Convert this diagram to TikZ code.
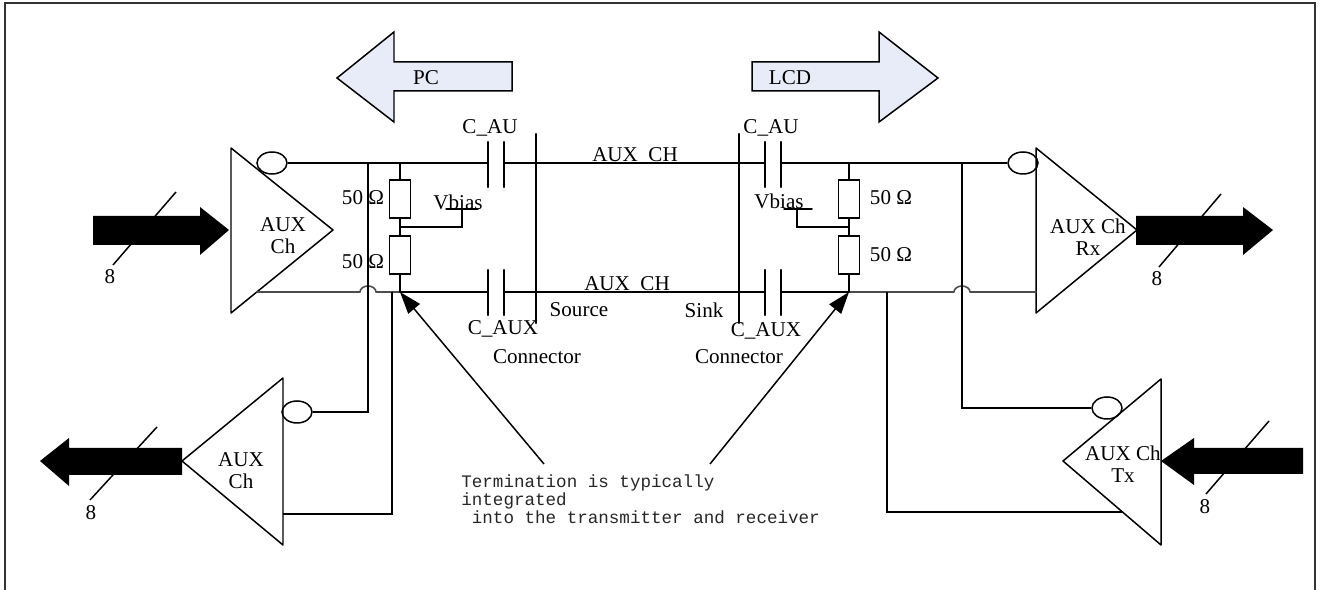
\documentclass[tikz,border=0pt]{standalone}
\usepackage{fontspec}
\setmainfont{Liberation Serif}
\setmonofont{Liberation Mono}
\usepackage{tkz-euclide}
\usepackage{xcolor}
\usetikzlibrary{arrows.meta, calc, shapes.geometric}

\definecolor{arrowblue}{RGB}{231,236,248}
\tikzset{
  wire/.style={line width=1.4pt},
  thinwire/.style={line width=0.85pt},
  faintwire/.style={line width=0.9pt, black!70},
  bubble/.style={ellipse, draw, line width=0.85pt, minimum width=6mm, minimum height=4.4mm, inner sep=0pt},
  resbox/.style={draw, line width=0.85pt, minimum width=4.2mm, minimum height=7.6mm, inner sep=0pt},
  termarrow/.style={line width=0.85pt, -{Triangle[length=4.4mm,width=3mm]}},
  lbl/.style={font=\fontsize{12}{12.5}\selectfont, inner sep=0pt, align=center},
  note/.style={font=\ttfamily\fontsize{10}{10.5}\selectfont, inner sep=0pt, align=left, text=black!85},
}

\begin{document}
\begin{tikzpicture}[x=0.02cm, y=-0.02cm]
    \useasboundingbox (0,0) rectangle (1323,590);
    \draw[line width=0.8pt, black!80] (5,590) -- (5,3) -- (1315,3) -- (1315,590);

    % direction arrows
    \filldraw[fill=arrowblue, thinwire] (337,78) -- (394,32) -- (394,62) -- (512,62)
        -- (512,91) -- (394,91) -- (394,122) -- cycle;
    \filldraw[fill=arrowblue, thinwire] (752,62) -- (879,62) -- (879,32) -- (938,78)
        -- (879,122) -- (879,91) -- (752,91) -- cycle;
    \node[lbl] (pc) at (426,78) {PC};
    \node[lbl] (lcd) at (790,78) {LCD};

    % drivers
    \tkzDefPoint(231,148){RxLt} \tkzDefPoint(333,230){RxLa} \tkzDefPoint(231,313){RxLb}
    \tkzDefPoint(283,378){TxLt} \tkzDefPoint(182,461){TxLa} \tkzDefPoint(283,545){TxLb}
    \tkzDefPoint(1036,148){RxRt} \tkzDefPoint(1137,230){RxRa} \tkzDefPoint(1036,313){RxRb}
    \tkzDefPoint(1161,379){TxRt} \tkzDefPoint(1063,461){TxRa} \tkzDefPoint(1161,545){TxRb}
    \tkzDrawPolygon[thinwire](RxLt,RxLa,RxLb)
    \tkzDrawPolygon[thinwire](TxLt,TxLa,TxLb)
    \tkzDrawPolygon[thinwire](RxRt,RxRa,RxRb)
    \tkzDrawPolygon[thinwire](TxRt,TxRa,TxRb)
    \node[bubble] (BRxL) at (272,163) {};
    \node[bubble] (BTxL) at (297,412) {};
    \node[bubble] (BRxR) at (1023,163) {};
    \node[bubble] (BTxR) at (1107,408) {};
    \node[lbl] (auxRxL) at (283,236) {AUX\\Ch};
    \node[lbl] (auxTxL) at (241,471) {AUX\\Ch};
    \node[lbl] (auxRxR) at (1088,237) {AUX Ch\\Rx};
    \node[lbl] (auxTxR) at (1123,464) {AUX Ch\\Tx};

    % data buses
    \fill (93,216) -- (200,216) -- (200,207) -- (229,230) -- (200,255) -- (200,245) -- (93,245) -- cycle;
    \fill (182,448) -- (69,448) -- (69,438) -- (40,461) -- (69,486) -- (69,475) -- (182,475) -- cycle;
    \fill (1136,216) -- (1243,216) -- (1243,207) -- (1273,230) -- (1243,255) -- (1243,245) -- (1136,245) -- cycle;
    \fill (1303,448) -- (1194,448) -- (1194,438) -- (1161,461) -- (1194,485) -- (1194,474) -- (1303,474) -- cycle;
    \draw[thinwire] (113,265) -- (176,192);
    \draw[thinwire] (90,500) -- (157,427);
    \draw[thinwire] (1159,267) -- (1221,194);
    \draw[thinwire] (1206,494) -- (1269,421);
    \node[lbl] (busA) at (110,277) {8};
    \node[lbl] (busB) at (91,513) {8};
    \node[lbl] (busC) at (1157,279) {8};
    \node[lbl] (busD) at (1205,507) {8};

    % top line
    \tkzDefPoint(368,163){WTa} \tkzDefPoint(400,163){WTb}
    \tkzDefPoint(488,163){WT1} \tkzDefPoint(504,163){WT2}
    \tkzDefPoint(765,163){WT3} \tkzDefPoint(781,163){WT4}
    \tkzDefPoint(849,163){WTc} \tkzDefPoint(962,163){WTd}
    \draw[wire] (BRxL.east) -- (WT1);
    \draw[wire] (WT2) -- (WT3);
    \draw[wire] (WT4) -- (BRxR.west);

    % bottom line
    \tkzDefPoint(257,292){WB0} \tkzDefPoint(360,292){WBh1} \tkzDefPoint(376,292){WBh2}
    \tkzDefPoint(392,292){WBa} \tkzDefPoint(400,292){WBb}
    \tkzDefPoint(488,292){WB1} \tkzDefPoint(504,292){WB2}
    \tkzDefPoint(765,292){WB3} \tkzDefPoint(781,292){WB4}
    \tkzDefPoint(849,292){WBc} \tkzDefPoint(887,292){WBd}
    \tkzDefPoint(954,292){WBh3} \tkzDefPoint(970,292){WBh4} \tkzDefPoint(1036,292){WBe}
    \tkzDrawSegments[faintwire](WB0,WBh1 WBh2,WBb WBc,WBh3 WBh4,WBe)
    \draw[faintwire] (WBh1) arc[start angle=180, end angle=360, x radius=8, y radius=6];
    \draw[faintwire] (WBh3) arc[start angle=180, end angle=360, x radius=8, y radius=6];
    \tkzDrawSegments[wire](WBb,WB1 WB2,WB3 WB4,WBc)

    % AC coupling caps and connectors
    \tkzDefPoint(488,142){CLa1} \tkzDefPoint(488,187){CLa2}
    \tkzDefPoint(504,142){CLb1} \tkzDefPoint(504,187){CLb2}
    \tkzDefPoint(488,270){CLc1} \tkzDefPoint(488,315){CLc2}
    \tkzDefPoint(504,270){CLd1} \tkzDefPoint(504,315){CLd2}
    \tkzDefPoint(765,142){CRa1} \tkzDefPoint(765,187){CRa2}
    \tkzDefPoint(781,142){CRb1} \tkzDefPoint(781,187){CRb2}
    \tkzDefPoint(765,270){CRc1} \tkzDefPoint(765,315){CRc2}
    \tkzDefPoint(781,270){CRd1} \tkzDefPoint(781,315){CRd2}
    \tkzDrawSegments[wire](CLa1,CLa2 CLb1,CLb2 CLc1,CLc2 CLd1,CLd2)
    \tkzDrawSegments[wire](CRa1,CRa2 CRb1,CRb2 CRc1,CRc2 CRd1,CRd2)
    \tkzDefPoint(536,134){CnL1} \tkzDefPoint(536,323){CnL2}
    \tkzDefPoint(739,134){CnR1} \tkzDefPoint(739,323){CnR2}
    \tkzDrawSegments[wire](CnL1,CnL2 CnR1,CnR2)

    % terminations
    \node[resbox] (RLa) at (400,199) {};
    \node[resbox] (RLb) at (400,255) {};
    \node[resbox] (RRa) at (849,199) {};
    \node[resbox] (RRb) at (849,255) {};
    \tkzDefPoint(400,227){MidL} \tkzDefPoint(462,227){VbL1} \tkzDefPoint(462,209){VbL2}
    \tkzDefPoint(446,209){VuL1} \tkzDefPoint(478,209){VuL2}
    \tkzDefPoint(849,227){MidR} \tkzDefPoint(797,227){VbR1} \tkzDefPoint(797,209){VbR2}
    \tkzDefPoint(784,209){VuR1} \tkzDefPoint(812,209){VuR2}
    \draw[thinwire] (WTb) -- (RLa) -- (RLb) -- (WBb);
    \draw[thinwire] (WTc) -- (RRa) -- (RRb) -- (WBc);
    \draw[thinwire] (MidL) -- (VbL1) -- (VbL2);
    \draw[thinwire] (MidR) -- (VbR1) -- (VbR2);
    \tkzDrawSegments[thinwire](VuL1,VuL2 VuR1,VuR2)

    % taps to the transmitters
    \tkzDefPoint(368,412){TpLa} \tkzDefPoint(392,514){TpLb} \tkzDefPoint(283,514){TpLc}
    \tkzDefPoint(962,408){TpRa} \tkzDefPoint(887,512){TpRb} \tkzDefPoint(1123,512){TpRc}
    \draw[thinwire] (WTa) -- (TpLa) -- (BTxL.east);
    \draw[thinwire] (WBa) -- (TpLb) -- (TpLc);
    \draw[thinwire] (WTd) -- (TpRa) -- (BTxR.west);
    \draw[thinwire] (WBd) -- (TpRb) -- (TpRc);

    % labels
    \node[lbl] (cauL) at (490,128) {C\_AU};
    \node[lbl] (cauR) at (771,128) {C\_AU};
    \node[lbl, anchor=base] (auxT) at (635,162) {AUX\_CH};
    \node[lbl, anchor=base] (auxB) at (627,291) {AUX\_CH};
    \node[lbl] (srcL) at (579,310) {Source};
    \node[lbl] (snkR) at (704,310) {Sink};
    \node[lbl] (cauxL) at (503,329) {C\_AUX};
    \node[lbl] (cauxR) at (766,331) {C\_AUX};
    \node[lbl] (conL) at (537,357) {Connector};
    \node[lbl] (conR) at (739,357) {Connector};
    \node[lbl, anchor=base] (vbL) at (458,210) {Vbias};
    \node[lbl, anchor=base] (vbR) at (779,209) {Vbias};
    \node[lbl] (ohmLa) at (363,198) {50 Ω};
    \node[lbl] (ohmLb) at (363,262) {50 Ω};
    \node[lbl] (ohmRa) at (891,198) {50 Ω};
    \node[lbl] (ohmRb) at (891,255) {50 Ω};

    % note
    \node[note, anchor=north west] (term) at (461,474)
        {Termination is typically\\integrated\\\phantom{x}into the transmitter and receiver};
    \tkzDefPoint(544,464){TmL} \tkzDefPoint(710,464){TmR}
    \draw[termarrow] (TmL) -- (WBb);
    \draw[termarrow] (TmR) -- (WBc);
\end{tikzpicture}
\end{document}
